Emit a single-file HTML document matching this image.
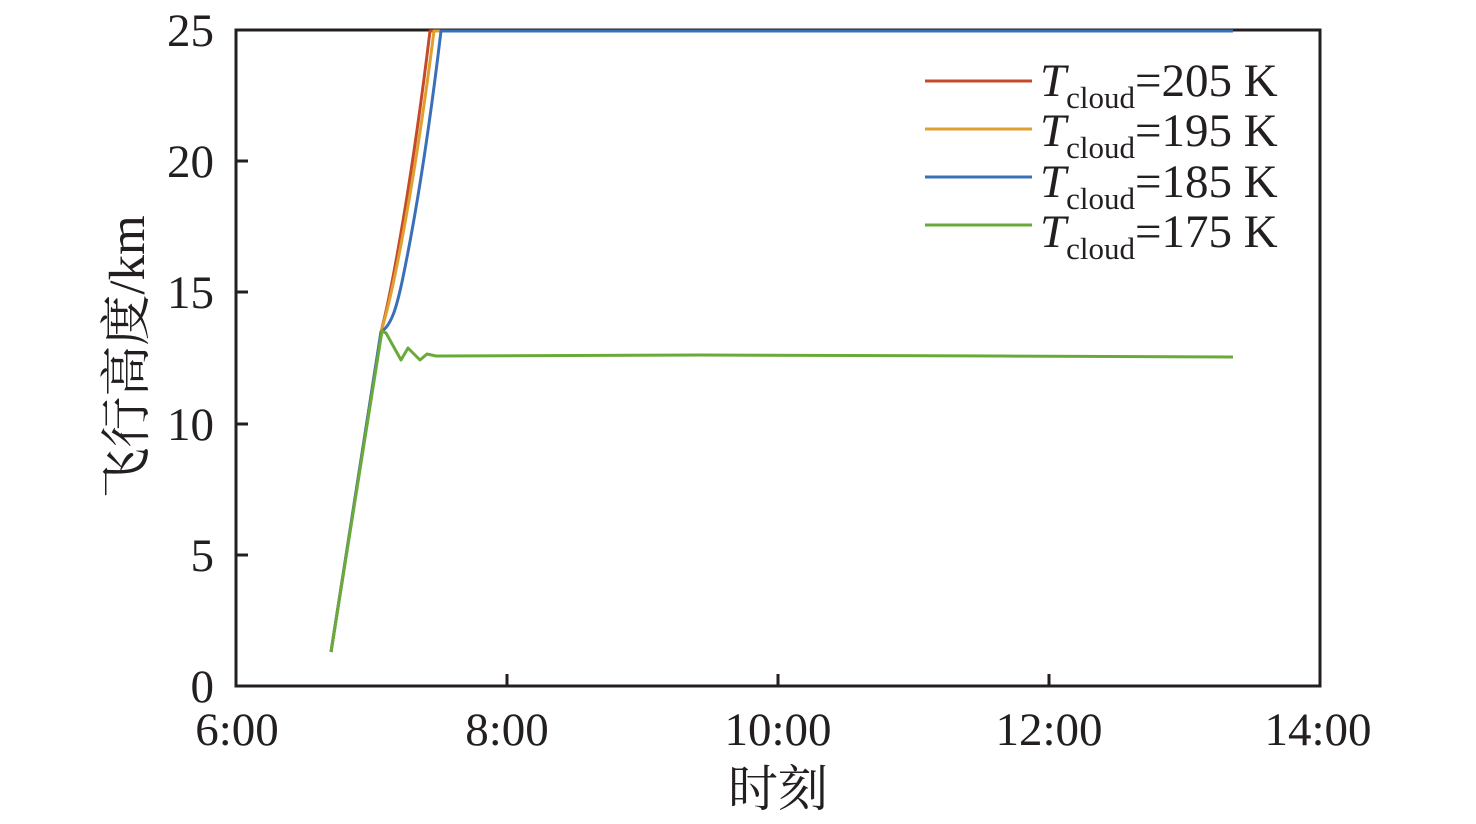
<!DOCTYPE html>
<html><head><meta charset="utf-8"><style>
html,body{margin:0;padding:0;background:#fff;}
svg{display:block;}
text{font-family:"Liberation Serif",serif;fill:#231f20;}
text.cjk{font-family:"Noto Serif CJK SC","Noto Sans CJK SC",serif;}
</style></head><body>
<svg width="1476" height="824" viewBox="0 0 1476 824" xmlns="http://www.w3.org/2000/svg">
<g stroke="#231f20" stroke-width="3" fill="none">
<rect x="236" y="30" width="1084" height="656"/>
<path d="M507,686v-12M778,686v-12M1049,686v-12"/>
<path d="M236,555h12M236,424h12M236,292h12M236,161h12"/>
</g>
<g font-size="47" text-anchor="end">
<text x="214" y="702">0</text>
<text x="214" y="571">5</text>
<text x="214" y="440">10</text>
<text x="214" y="308">15</text>
<text x="214" y="177">20</text>
<text x="214" y="46">25</text>
</g>
<g font-size="47" text-anchor="middle">
<text x="237" y="745">6:00</text>
<text x="507" y="745">8:00</text>
<text x="778" y="745">10:00</text>
<text x="1049" y="745">12:00</text>
<text x="1318" y="745">14:00</text>
</g>
<text class="cjk" x="778" y="806" font-size="50" text-anchor="middle">时刻</text>
<text font-size="51" text-anchor="middle" transform="translate(144,357) rotate(-90)"><tspan style="font-family:'Noto Serif CJK SC',serif">飞行高度</tspan>/km</text>
<g fill="none" stroke-width="3" stroke-linejoin="round">
<path stroke="#c44a2a" d="M331,652L381,332C392,290 412,180 430,31L1233,31"/>
<path stroke="#e0a030" d="M331,652L381,332C394,290 415,180 434,31L1233,31"/>
<path stroke="#3a70b8" d="M331,652L381,332C392,325 397,305 402,282C415,220 428,140 441,31L1233,31"/>
<path stroke="#6aaa3a" d="M331,652L382,331L386,333L401,360L408,348L420,360L427,354L436,356L700,355L1000,356L1233,357"/>
</g>
<g stroke-width="3">
<line x1="925" y1="81" x2="1032" y2="81" stroke="#c44a2a"/>
<line x1="925" y1="129" x2="1032" y2="129" stroke="#e0a030"/>
<line x1="925" y1="177" x2="1032" y2="177" stroke="#3a70b8"/>
<line x1="925" y1="225" x2="1032" y2="225" stroke="#6aaa3a"/>
</g>
<g font-size="47">
<text x="1040" y="96"><tspan font-style="italic">T</tspan><tspan font-size="31" dy="12">cloud</tspan><tspan dy="-12">=205 K</tspan></text>
<text x="1040" y="146"><tspan font-style="italic">T</tspan><tspan font-size="31" dy="12">cloud</tspan><tspan dy="-12">=195 K</tspan></text>
<text x="1040" y="197"><tspan font-style="italic">T</tspan><tspan font-size="31" dy="12">cloud</tspan><tspan dy="-12">=185 K</tspan></text>
<text x="1040" y="247"><tspan font-style="italic">T</tspan><tspan font-size="31" dy="12">cloud</tspan><tspan dy="-12">=175 K</tspan></text>
</g>
</svg>
</body></html>
